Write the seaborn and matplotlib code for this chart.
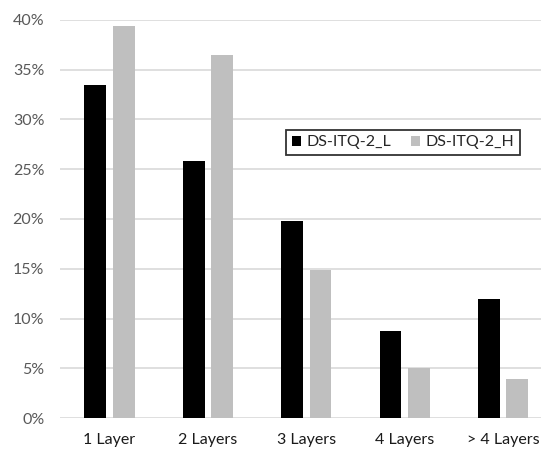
from matplotlib import pyplot as plt
from matplotlib.ticker import FuncFormatter
import seaborn as sns
import pandas as pd

categories = ["1 Layer", "2 Layers", "3 Layers", "4 Layers", "> 4 Layers"]
series_names = ["DS-ITQ-2_L", "DS-ITQ-2_H"]
values_l = [33.5, 25.8, 19.8, 8.7, 12.0]
values_h = [39.4, 36.5, 14.9, 5.05, 3.95]


def main():
    df = pd.DataFrame({
        "layers": categories * 2,
        "share": values_l + values_h,
        "series": [series_names[0]] * len(categories) + [series_names[1]] * len(categories),
    })

    sns.set_theme(style="white")
    plt.rcParams["font.family"] = ["Lato", "DejaVu Sans"]

    fig = plt.figure(figsize=(5.41, 4.49), dpi=100)
    # plot area runs a little past the right edge, as in the cropped original
    ax = fig.add_axes([60.3 / 541, 31 / 449, 492 / 541, 398 / 449])
    sns.barplot(
        data=df, x="layers", y="share", hue="series", ax=ax,
        palette=["#000000", "#bfbfbf"], width=0.575, gap=0.23,
        linewidth=0, saturation=1,
    )

    ax.set_ylim(0, 40)
    ax.set_xlim(-0.5, 4.5)
    ax.set_yticks(range(0, 41, 5))
    ax.yaxis.set_major_formatter(FuncFormatter(lambda v, _: f"{int(v)}%"))
    ax.grid(axis="y", color="#d9d9d9", linewidth=1.2)
    ax.set_axisbelow(True)
    for s in ax.spines.values():
        s.set_visible(False)
    ax.tick_params(axis="y", labelsize=11.5, labelcolor="#595959", length=0, pad=11.5)
    ax.tick_params(axis="x", labelsize=11.5, labelcolor="#1a1a1a", length=0, pad=11)
    ax.set_xlabel("")
    ax.set_ylabel("")

    leg = ax.legend(
        loc="upper left", bbox_to_anchor=(0.459, 0.724), ncol=2,
        fontsize=11.5, frameon=True, fancybox=False, edgecolor="#000000",
        handlelength=0.6, handleheight=0.6, handletextpad=0.35,
        columnspacing=1.2, borderpad=0.35, borderaxespad=0,
    )
    leg.get_frame().set_linewidth(1.3)

    plt.savefig("out.png", dpi=100)


if __name__ == "__main__":
    main()
